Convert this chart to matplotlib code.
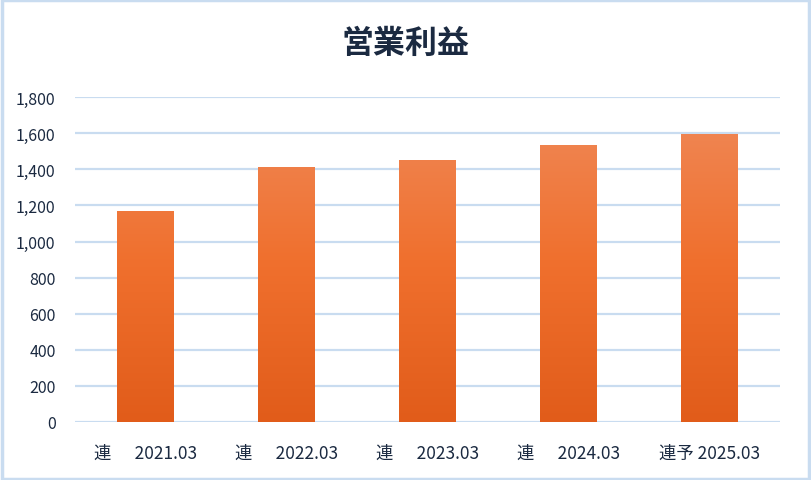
import numpy as np
import matplotlib.pyplot as plt
from matplotlib.patches import Rectangle
from matplotlib.ticker import FuncFormatter
from matplotlib.colors import LinearSegmentedColormap

plt.rcParams['font.family'] = ['Noto Sans CJK JP', 'DejaVu Sans']

categories = ["連      2021.03", "連      2022.03", "連      2023.03", "連      2024.03", "連予 2025.03"]
values = [1168, 1412, 1451, 1534, 1597]
title = "営業利益"

text_color = "#1B2A41"
grid_color = "#C9DCF0"

fig = plt.figure(figsize=(8.11, 4.81), dpi=100)
ax = fig.add_axes([0.0925, 0.1206, 0.8695, 0.6754])

x = np.arange(len(categories))
bars = ax.bar(x, values, width=0.40, color="none", zorder=3)

# vertical gradient, top lighter to bottom darker
grad = np.linspace(0, 1, 256).reshape(-1, 1)
cmap = LinearSegmentedColormap.from_list(
    "bar", ["#E15C1A", "#F0702E", "#EF8A5A"])
for b in bars:
    im = ax.imshow(grad, cmap=cmap, aspect="auto", origin="lower",
                   extent=[b.get_x(), b.get_x() + b.get_width(), 0, 1800],
                   zorder=3)
    im.set_clip_path(b)

ax.set_xlim(-0.5, len(categories) - 0.5)
ax.set_ylim(0, 1800)
ax.set_yticks(np.arange(0, 1801, 200))
ax.yaxis.set_major_formatter(FuncFormatter(lambda v, p: f"{int(v):,}"))
ax.set_xticks(x)
ax.set_xticklabels(categories)
ax.tick_params(length=0, labelsize=11.5, colors=text_color)
ax.tick_params(axis="x", pad=16, labelsize=12.5)
ax.tick_params(axis="y", pad=14)
ax.grid(axis="y", color=grid_color, linewidth=1.6, zorder=0)
ax.set_axisbelow(True)
for s in ax.spines.values():
    s.set_visible(False)

fig.text(0.5, 0.908, title, ha="center", va="center", fontsize=23,
         fontweight="bold", color=text_color)

fig.patches.append(Rectangle((0.002, 0.003), 0.996, 0.994, transform=fig.transFigure,
                             fill=False, edgecolor=grid_color, linewidth=2.5))

fig.savefig("out.png", dpi=100)
